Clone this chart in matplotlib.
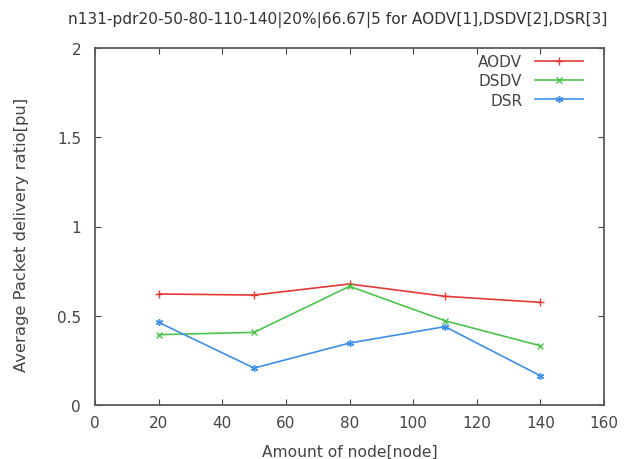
import matplotlib
matplotlib.use("Agg")
import matplotlib.pyplot as plt

nodes = [20, 50, 80, 110, 140]
aodv = [0.622, 0.616, 0.678, 0.609, 0.575]
dsdv = [0.394, 0.407, 0.665, 0.472, 0.332]
dsr = [0.463, 0.207, 0.347, 0.439, 0.164]
title = "n131-pdr20-50-80-110-140|20%|66.67|5 for AODV[1],DSDV[2],DSR[3]"

plt.rcParams['font.family'] = ['DejaVu Sans']
fig = plt.figure(figsize=(6.27, 4.6), dpi=100)
ax = fig.add_axes([95 / 627, 54 / 460, 509 / 627, 357 / 460])
tc = '#444444'
ax.plot(nodes, aodv, color='#e33a36', marker='+', ms=6, lw=1.2, label='AODV')
ax.plot(nodes, dsdv, color='#4cc44c', marker='x', ms=5, lw=1.2, label='DSDV')
ax.plot(nodes, dsr, color='#3d8fe8', marker=(6, 2, 0), ms=5, lw=1.2, label='DSR')
ax.set_xlim(0, 160)
ax.set_ylim(0, 2)
ax.set_xticks(range(0, 161, 20))
ax.set_yticks([0, 0.5, 1, 1.5, 2])
ax.set_yticklabels(['0', '0.5', '1', '1.5', '2'])
ax.tick_params(direction='in', top=True, right=True, colors=tc, labelsize=11, length=4)
ax.tick_params(axis='x', pad=7)
ax.tick_params(axis='y', pad=10)
for s in ax.spines.values():
    s.set_color('#5a5a5a')
    s.set_linewidth(1.3)
ax.set_xlabel('Amount of node[node]', color=tc, fontsize=11.2)
ax.xaxis.set_label_coords(0.5, -39 / 357)
ax.set_ylabel('Average Packet delivery ratio[pu]', color=tc, fontsize=11.8)
ax.yaxis.set_label_coords(-66 / 509, 0.478)
fig.text(338 / 627, 1 - 20 / 460, title, color='#333333', fontsize=11.1,
         ha='center', va='center')
leg = ax.legend(loc='upper right', bbox_to_anchor=(0.959, 0.983), markerfirst=False,
                frameon=False, fontsize=11, handlelength=3.14, handletextpad=0.85,
                borderaxespad=0, borderpad=0, labelspacing=0.28)
for t in leg.get_texts():
    t.set_color(tc)
fig.savefig('out.png', dpi=100)
